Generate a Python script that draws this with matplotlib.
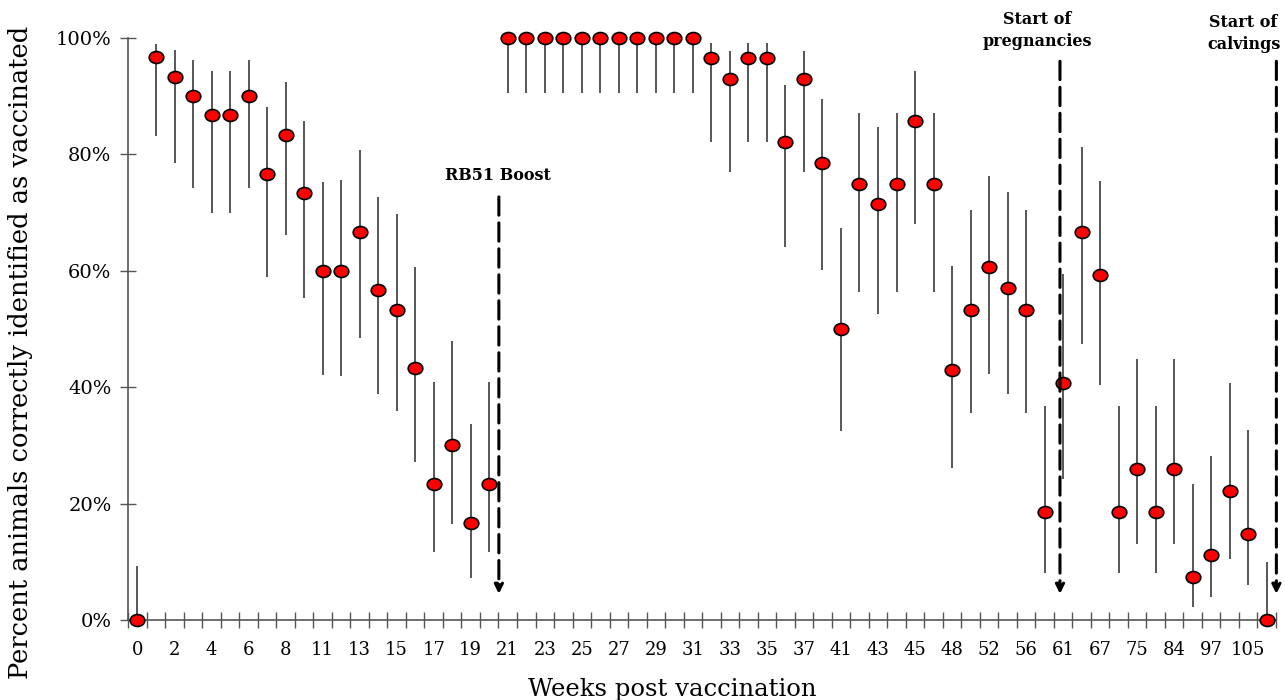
import matplotlib
matplotlib.use('Agg')
from matplotlib import pyplot
from matplotlib.path import Path
from matplotlib.transforms import Affine2D
import numpy

# percent correctly identified as vaccinated, one value per sampling
pct = [0, 96.7, 93.3, 90.0, 86.7, 86.7, 90.0, 76.7, 83.3, 73.3,
       60.0, 60.0, 66.7, 56.7, 53.3, 43.3, 23.3, 30.0, 16.7, 23.3,
       100, 100, 100, 100, 100, 100, 100, 100, 100, 100, 100,
       96.6, 92.9, 96.6, 96.6, 82.1, 92.9, 78.6, 50.0, 75.0, 71.4,
       75.0, 85.7, 75.0, 42.9, 53.3, 60.6, 57.1, 53.3, 18.5, 40.7,
       66.7, 59.3, 18.5, 25.9, 18.5, 25.9, 7.4, 11.1, 22.2, 14.8, 0]
# 95% interval, lower and upper
ci_low = [0, 83.1, 78.5, 74.2, 70.0, 70.0, 74.2, 58.9, 66.1, 55.3,
          42.1, 42.0, 48.5, 38.9, 35.9, 27.2, 11.6, 16.5, 7.3, 11.6,
          90.5, 90.5, 90.5, 90.5, 90.5, 90.5, 90.5, 90.5, 90.5, 90.5, 90.5,
          82.2, 77.0, 82.2, 82.2, 64.1, 77.0, 60.2, 32.5, 56.4, 52.6,
          56.4, 68.1, 56.4, 26.2, 35.6, 42.2, 38.8, 35.6, 8.1, 24.3,
          47.5, 40.4, 8.1, 13.1, 8.1, 13.1, 2.2, 4.0, 10.5, 6.0, 0]
ci_high = [9.2, 99.0, 97.9, 96.3, 94.4, 94.4, 96.3, 88.1, 92.5, 85.7,
           75.3, 75.6, 80.8, 72.6, 69.7, 60.7, 40.9, 48.0, 33.6, 40.9,
           100, 100, 100, 100, 100, 100, 100, 100, 100, 100, 100,
           99.1, 97.8, 99.1, 99.1, 91.9, 97.8, 89.6, 67.3, 87.2, 84.7,
           87.2, 94.3, 87.2, 60.9, 70.5, 76.3, 73.5, 70.5, 36.8, 59.4,
           81.2, 75.4, 36.8, 44.8, 36.8, 44.8, 23.4, 28.1, 40.8, 32.6, 10.0]
# labels shown under every second sampling
week_labels = ['0', '2', '4', '6', '8', '11', '13', '15', '17', '19', '21',
               '23', '25', '27', '29', '31', '33', '35', '37', '41', '43',
               '45', '48', '52', '56', '61', '67', '75', '84', '97', '105']
# events (position on category axis, top of arrow, text)
events = [(19.52, 72.7, 'RB51 Boost'),
          (49.83, 96.0, 'Start of\npregnancies'),
          (61.52, 96.0, 'Start of\ncalvings')]

x = numpy.arange(len(pct))

fig = pyplot.figure(figsize=(12.85, 7.0), dpi=100)
ax = fig.add_axes([0.0998, 0.1143, 0.8932, 0.8314])

# slightly flattened circle marker
circ = Path.unit_circle()
ell = Affine2D().scale(1.0, 0.82).transform_path(circ)

ax.vlines(x, ci_low, ci_high, color='#3a3a3a', linewidth=1.2, zorder=2)
ax.plot(x, pct, linestyle='none', marker=ell, markersize=10.5,
        markerfacecolor='#ff0000', markeredgecolor='black',
        markeredgewidth=1.2, clip_on=False, zorder=3)

ax.set_xlim(-0.5, len(pct) - 0.5)
ax.set_ylim(0, 100)

# category boundaries get the tick marks, labels sit under points
ax.set_xticks(numpy.arange(-0.5, len(pct), 1.0))
ax.set_xticklabels([])
ax.set_xticks(numpy.arange(0, 2 * len(week_labels), 2), week_labels, minor=True)
ax.tick_params(axis='x', which='major', direction='inout', length=12,
               color='#555555', width=1.0)
ax.tick_params(axis='x', which='minor', length=0, pad=15, labelsize=13)

ax.set_yticks(range(0, 101, 20), ['{}%'.format(v) for v in range(0, 101, 20)])
ax.tick_params(axis='y', direction='inout', length=12, color='#555555',
               width=1.0, labelsize=14, pad=6)

for s in ['top', 'right']:
    ax.spines[s].set_visible(False)
for s in ['left', 'bottom']:
    ax.spines[s].set_color('#555555')
    ax.spines[s].set_linewidth(1.2)

# dashed arrows for events
for ex, ey, txt in events:
    ax.annotate('', xy=(ex, 4.5), xytext=(ex, ey),
                arrowprops=dict(arrowstyle='-|>', linestyle=(0, (6, 2.5)),
                                linewidth=2.2, color='black',
                                mutation_scale=13, shrinkA=0, shrinkB=0),
                annotation_clip=False)

ax.text(19.45, 76.3, events[0][2], ha='center', va='center',
        fontsize=11.5, fontweight='bold', family='DejaVu Serif')
ax.text(48.6, 101.3, events[1][2], ha='center', va='center',
        fontsize=11.5, fontweight='bold', family='DejaVu Serif',
        linespacing=1.4, clip_on=False)
ax.text(59.75, 100.8, events[2][2], ha='center', va='center',
        fontsize=11.5, fontweight='bold', family='DejaVu Serif',
        linespacing=1.4, clip_on=False)

for lab in ax.get_xticklabels(minor=True) + ax.get_yticklabels():
    lab.set_family('DejaVu Serif')

ax.set_xlabel('Weeks post vaccination', fontsize=17.5, family='DejaVu Serif')
ax.xaxis.set_label_coords(0.474, -0.1)
ax.set_ylabel('Percent animals correctly identified as vaccinated',
              fontsize=18.5, family='DejaVu Serif')
ax.yaxis.set_label_coords(-0.083, 0.46)

fig.savefig('out.png')
